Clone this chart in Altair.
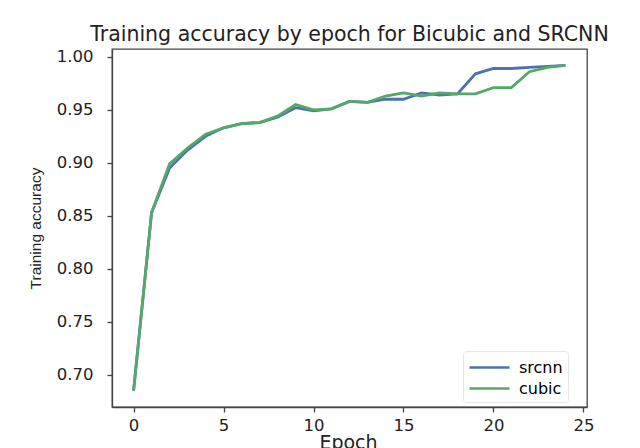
import altair as alt
import pandas as pd

epochs = list(range(25))
srcnn = [0.685, 0.853, 0.895, 0.912, 0.925, 0.933, 0.937, 0.938, 0.943, 0.952,
         0.949, 0.951, 0.958, 0.957, 0.960, 0.960, 0.966, 0.964, 0.965, 0.984,
         0.989, 0.989, 0.990, 0.991, 0.992]
cubic = [0.685, 0.853, 0.899, 0.914, 0.927, 0.933, 0.937, 0.938, 0.944, 0.955,
         0.950, 0.951, 0.958, 0.957, 0.963, 0.966, 0.963, 0.966, 0.965, 0.965,
         0.971, 0.971, 0.986, 0.990, 0.992]
series_names = ["srcnn", "cubic"]
series_colors = ["#4c72b0", "#55a868"]
x_ticks = [0, 5, 10, 15, 20, 25]
y_ticks = [0.70, 0.75, 0.80, 0.85, 0.90, 0.95, 1.00]

rows = []
for name, vals in zip(series_names, [srcnn, cubic]):
    for e, v in zip(epochs, vals):
        rows.append({"Epoch": e, "acc": v, "model": name})
df = pd.DataFrame(rows)

chart = alt.Chart(df).mark_line(strokeWidth=2.8, clip=True).encode(
    x=alt.X("Epoch:Q",
            scale=alt.Scale(domain=[-1.2, 25.2], nice=False, zero=False),
            axis=alt.Axis(values=x_ticks, format="d", title="Epoch",
                          titleX=236, titleY=41, titleBaseline="alphabetic",
                          titleFontSize=19, titleFontWeight="normal",
                          labelPadding=5)),
    y=alt.Y("acc:Q",
            scale=alt.Scale(domain=[0.6696, 1.0074], nice=False, zero=False),
            axis=alt.Axis(values=y_ticks, format=".2f", title="Training accuracy",
                          titleFont="Liberation Sans", titleFontSize=15.5,
                          titleFontWeight="normal", titleX=-69, titleY=179,
                          titleBaseline="bottom", labelPadding=14)),
    color=alt.Color("model:N",
                    scale=alt.Scale(domain=series_names, range=series_colors),
                    legend=alt.Legend(title=None, orient="none", legendX=351, legendY=302,
                                      symbolType="M-2,0H2", symbolSize=400,
                                      symbolStrokeWidth=2.6, symbolOffset=10,
                                      labelFontSize=16,
                                      labelFont="DejaVu Sans", labelOffset=18,
                                      padding=5, rowPadding=1,
                                      fillColor="white", strokeColor="#e6e6e6",
                                      cornerRadius=3)),
    order=alt.Order("Epoch:Q"),
).properties(
    width=475, height=358,
    title=alt.TitleParams("Training accuracy by epoch for Bicubic and SRCNN",
                          font="DejaVu Sans", fontSize=20.5, fontWeight="normal",
                          color="#222222", offset=3),
    autosize=alt.AutoSizeParams(type="none"),
    padding={"left": 104, "top": 41, "right": 45, "bottom": 60},
).configure_view(
    stroke="#444444", strokeWidth=1.3
).configure_axis(
    labelFont="DejaVu Sans", labelFontSize=16.5, labelColor="#222222",
    titleFont="DejaVu Sans", titleColor="#222222",
    tickSize=5, tickColor="#444444", tickWidth=1.3,
    domainColor="#444444", domainWidth=1.3, grid=False
)

chart.save("out.html", embed_options={"renderer": "svg", "actions": False})
